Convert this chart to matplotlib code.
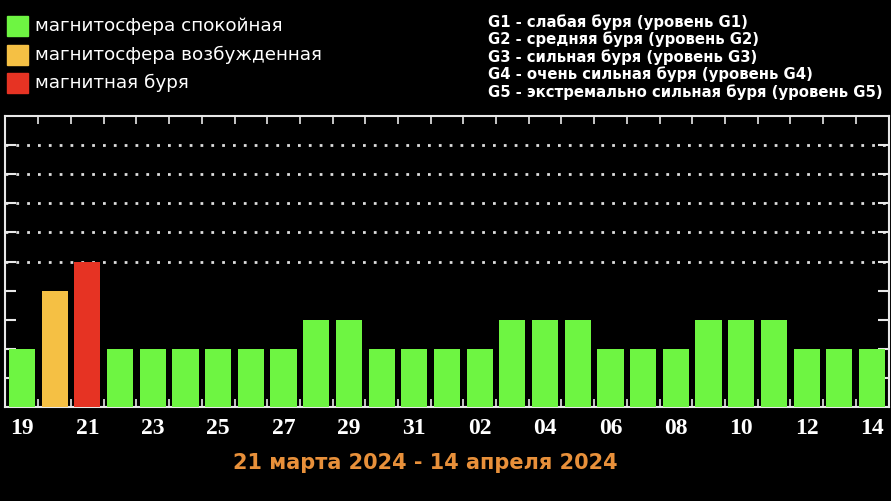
import matplotlib
matplotlib.use("Agg")
import matplotlib.pyplot as plt
from matplotlib.patches import Rectangle

# days shown, 19 March .. 14 April 2024
days = ["19", "20", "21", "22", "23", "24", "25", "26", "27", "28", "29", "30", "31",
        "01", "02", "03", "04", "05", "06", "07", "08", "09", "10", "11", "12", "13", "14"]
kp = [2, 4, 5, 2, 2, 2, 2, 2, 2, 3, 3, 2, 2,
      2, 2, 3, 3, 3, 2, 2, 2, 3, 3, 3, 2, 2, 2]
state = ["calm", "excited", "storm"] + ["calm"] * 24

legend_labels = ["магнитосфера спокойная", "магнитосфера возбужденная", "магнитная буря"]
g_levels = [
    "G1 - слабая буря (уровень G1)",
    "G2 - средняя буря (уровень G2)",
    "G3 - сильная буря (уровень G3)",
    "G4 - очень сильная буря (уровень G4)",
    "G5 - экстремально сильная буря (уровень G5)",
]
period = "21 марта 2024 - 14 апреля 2024"

colors = {"calm": "#6ef542", "excited": "#f5c044", "storm": "#e63323"}

fig = plt.figure(figsize=(8.91, 5.01), dpi=100, facecolor="black")
ax = fig.add_axes([5 / 891, 94 / 501, 884 / 891, 291 / 501])
ax.set_facecolor("black")

x = list(range(len(days)))
ax.bar(x, kp, width=0.8, color=[colors[s] for s in state], zorder=3)

ax.set_xlim(-0.52, len(days) - 0.48)
ax.set_ylim(0, 10)

# dotted grid only in the upper part
for lvl in range(5, 10):
    ax.axhline(lvl, color="#dddddd", linestyle=(0, (1, 2.9)), linewidth=2, zorder=1)

for sp in ax.spines.values():
    sp.set_color("#e8e8e8")
    sp.set_linewidth(1.5)

ax.set_yticks(range(1, 10))
ax.set_yticklabels([])
ax.tick_params(axis="y", direction="in", length=8, width=1.5, color="#e8e8e8",
               left=True, right=True)

seps = [i + 0.5 for i in range(len(days) - 1)]
ax.set_xticks(seps, minor=True)
ax.tick_params(axis="x", which="minor", direction="in", length=6, width=1.2,
               color="#e8e8e8", top=True, bottom=True)
ax.set_xticks(x[::2])
ax.set_xticklabels(days[::2], fontfamily="Liberation Serif", fontweight="bold",
                   fontsize=17, color="white")
ax.tick_params(axis="x", which="major", length=0, pad=8)

fig.text(425 / 891, 1 - 463 / 501, period, ha="center", va="center",
         color="#e8903a", fontsize=15, fontweight="bold", family="DejaVu Sans")

# state legend, top left
for i, (lab, key) in enumerate(zip(legend_labels, ["calm", "excited", "storm"])):
    yc = 1 - (26 + i * 28.5) / 501
    fig.patches.append(Rectangle((7 / 891, yc - 10 / 501), 21 / 891, 20 / 501,
                                 transform=fig.transFigure, color=colors[key]))
    fig.text(35 / 891, yc, lab, ha="left", va="center", color="white",
             fontsize=13.2, family="DejaVu Sans")

# storm level legend, top right
for i, g in enumerate(g_levels):
    fig.text(488 / 891, 1 - (22 + i * 17.5) / 501, g, ha="left", va="center",
             color="white", fontsize=10.7, fontweight="bold", family="DejaVu Sans")

fig.savefig("out.png", dpi=100, facecolor="black")
